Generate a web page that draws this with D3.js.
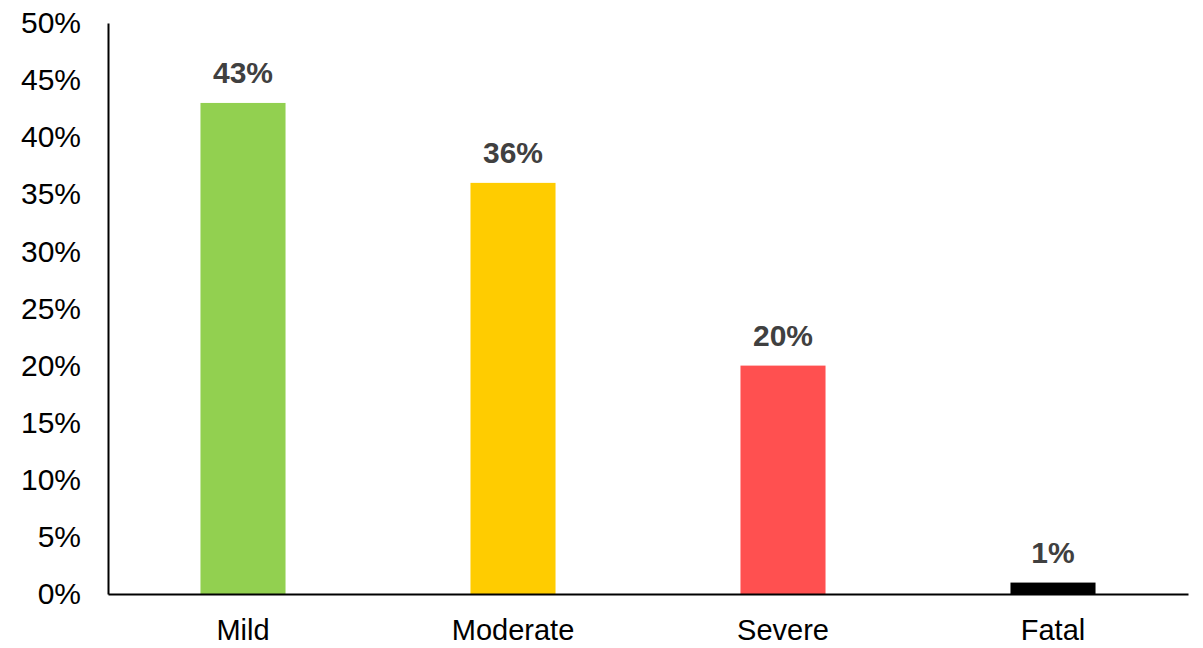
<!DOCTYPE html>
<html lang="en">
<head>
  <meta charset="UTF-8">
  <title>Severity</title>
  <script src="https://cdn.jsdelivr.net/npm/d3@7"></script>
  <style>
    body { margin: 0; background: #fff; }
    .axis text { font: 29px "Liberation Sans", Arial, sans-serif; fill: #000; }
    .y-axis text { font-size: 30px; }
    .label { font: bold 30px "Liberation Sans", Arial, sans-serif; fill: #404040; text-anchor: middle; }
  </style>
</head>
<body>
  <svg width="1203" height="648"></svg>
  <script>
    // data
    var categories = ["Mild", "Moderate", "Severe", "Fatal"];
    var values = [0.43, 0.36, 0.20, 0.01];
    var colors = ["#92d050", "#ffcc00", "#ff5050", "#000000"];
    var yTicks = [0, 0.05, 0.1, 0.15, 0.2, 0.25, 0.3, 0.35, 0.4, 0.45, 0.5];

    var svg = d3.select("svg");
    var plotLeft = 108, plotRight = 1188, plotTop = 23, plotBottom = 594;

    var x = d3.scaleBand()
      .domain(categories)
      .range([plotLeft, plotRight])
      .paddingInner(0.685)
      .paddingOuter(0.3425);

    var y = d3.scaleLinear()
      .domain([0, 0.5])
      .range([plotBottom, plotTop]);

    svg.selectAll("rect.bar")
      .data(values)
      .enter().append("rect")
      .attr("class", "bar")
      .attr("x", function (d, i) { return x(categories[i]); })
      .attr("y", function (d) { return y(d); })
      .attr("width", x.bandwidth())
      .attr("height", function (d) { return plotBottom - y(d); })
      .attr("fill", function (d, i) { return colors[i]; });

    svg.selectAll("text.label")
      .data(values)
      .enter().append("text")
      .attr("class", "label")
      .attr("x", function (d, i) { return x(categories[i]) + x.bandwidth() / 2; })
      .attr("y", function (d) { return y(d) - 20; })
      .text(function (d) { return Math.round(d * 100) + "%"; });

    // y axis
    var yAxis = svg.append("g")
      .attr("class", "axis y-axis")
      .attr("transform", "translate(" + plotLeft + ",0)")
      .call(d3.axisLeft(y).tickValues(yTicks).tickSize(0).tickPadding(27)
        .tickFormat(function (d) { return Math.round(d * 100) + "%"; }));
    yAxis.select(".domain").attr("stroke", "#000").attr("stroke-width", 2);
    yAxis.selectAll("text").attr("dy", "0.32em");

    // x axis
    var xAxis = svg.append("g")
      .attr("class", "axis")
      .attr("transform", "translate(0," + plotBottom + ")")
      .call(d3.axisBottom(x).tickSize(0).tickPadding(25).tickSizeOuter(0));
    xAxis.select(".domain").attr("stroke", "#000").attr("stroke-width", 2);
  </script>
</body>
</html>
